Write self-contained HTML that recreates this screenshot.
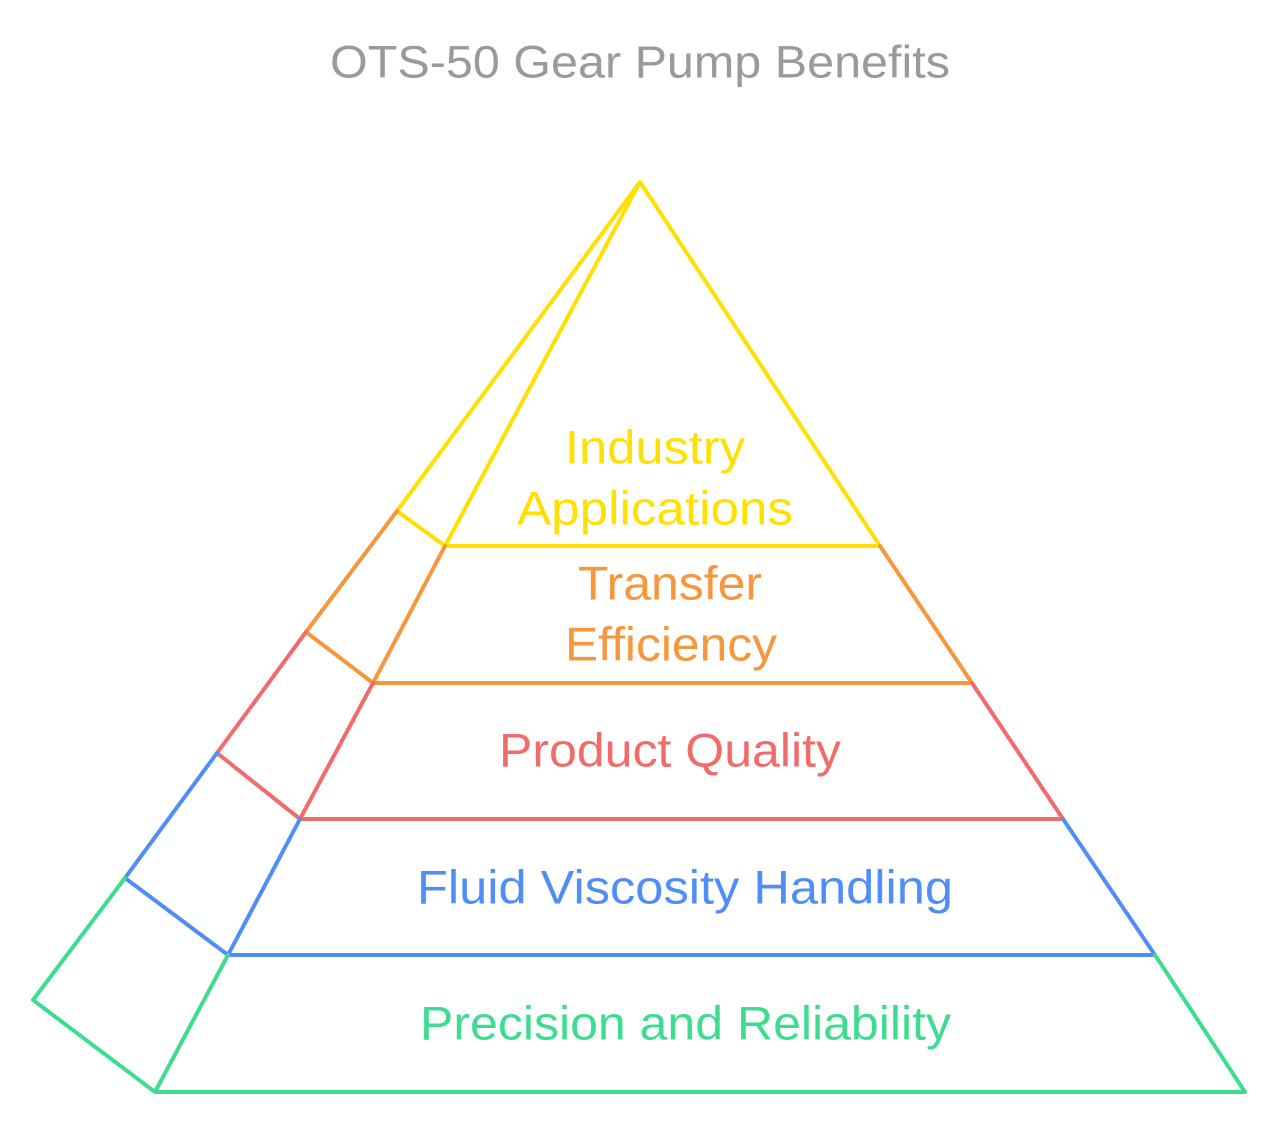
<!DOCTYPE html>
<html><head><meta charset="utf-8"><style>
html,body{margin:0;padding:0;background:#fff;}
svg{display:block}
text{font-family:"Liberation Sans",sans-serif;}
</style></head><body>
<svg width="1280" height="1125" viewBox="0 0 1280 1125" xmlns="http://www.w3.org/2000/svg">
<text x="640" y="62" text-anchor="middle" font-size="45" fill="#9a9a9a" dominant-baseline="central" textLength="620" lengthAdjust="spacingAndGlyphs">OTS-50 Gear Pump Benefits</text>
<g fill="none" stroke-width="4" stroke-linejoin="round" stroke-linecap="round">
<g stroke="#FFE000">
<polyline points="397,511 640,182 880,546 445,546 640,182"/>
<line x1="397" y1="511" x2="445" y2="546"/>
</g>
<g stroke="#F7963A">
<polyline points="306,632 397,511"/>
<polyline points="880,546 972,683 373,683 445,546"/>
<line x1="306" y1="632" x2="373" y2="683"/>
</g>
<g stroke="#F26B6B">
<polyline points="217,753 306,632"/>
<polyline points="972,683 1063,819 300,819 373,683"/>
<line x1="217" y1="753" x2="300" y2="819"/>
</g>
<g stroke="#4F8EF7">
<polyline points="125,878 217,753"/>
<polyline points="1063,819 1155,955 228,955 300,819"/>
<line x1="125" y1="878" x2="228" y2="955"/>
</g>
<g stroke="#3DDC8F">
<polyline points="125,878 33,1000 155,1092 1245,1092 1155,955"/>
<line x1="155" y1="1092" x2="228" y2="955"/>
</g>
</g>
<g font-size="47" text-anchor="middle" dominant-baseline="central" lengthAdjust="spacingAndGlyphs">
<text x="655" y="447" fill="#FFE000" textLength="180" lengthAdjust="spacingAndGlyphs">Industry</text>
<text x="655" y="508" fill="#FFE000" textLength="276" lengthAdjust="spacingAndGlyphs">Applications</text>
<text x="670" y="583" fill="#F7963A" textLength="184" lengthAdjust="spacingAndGlyphs">Transfer</text>
<text x="671" y="644" fill="#F7963A" textLength="212" lengthAdjust="spacingAndGlyphs">Efficiency</text>
<text x="670" y="750" fill="#F26B6B" textLength="342" lengthAdjust="spacingAndGlyphs">Product Quality</text>
<text x="685" y="887" fill="#4F8EF7" textLength="536" lengthAdjust="spacingAndGlyphs">Fluid Viscosity Handling</text>
<text x="685.5" y="1023" fill="#3DDC8F" textLength="531" lengthAdjust="spacingAndGlyphs">Precision and Reliability</text>
</g>
</svg>
</body></html>
